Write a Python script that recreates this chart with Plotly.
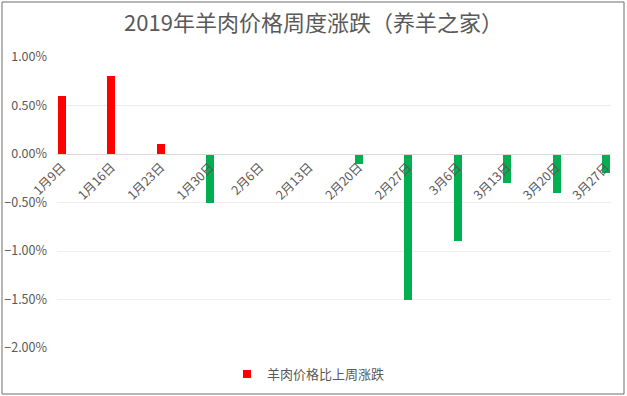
import plotly.graph_objects as go

categories = ["1月9日", "1月16日", "1月23日", "1月30日", "2月6日", "2月13日",
              "2月20日", "2月27日", "3月6日", "3月13日", "3月20日", "3月27日"]
values = [0.006, 0.008, 0.001, -0.005, 0.0, 0.0, -0.001, -0.015, -0.009, -0.003, -0.004, -0.002]
series_name = "羊肉价格比上周涨跌"
title_text = "2019年羊肉价格周度涨跌（养羊之家）"
ytick_vals = [0.01, 0.005, 0.0, -0.005, -0.01, -0.015, -0.02]

POS = "#FF0000"
NEG = "#00B050"
colors = [POS if v >= 0 else NEG for v in values]
FONT = "Noto Sans CJK SC"
GREY = "#595959"

fig = go.Figure()
fig.add_trace(go.Bar(
    x=list(range(len(categories))), y=values, name=series_name,
    marker=dict(color=colors, line=dict(width=0)), width=0.16,
    showlegend=False,
))
# legend entry (square marker like the original legend key)
fig.add_trace(go.Scatter(
    x=[None], y=[None], mode="markers", name=series_name,
    marker=dict(symbol="square", size=8, color=POS), showlegend=True,
))

fig.update_layout(
    width=627, height=396,
    margin=dict(l=57, r=16, t=57, b=48, autoexpand=False),
    paper_bgcolor="white", plot_bgcolor="white",
    font=dict(family=FONT, color=GREY, size=12),
    title=dict(text=title_text, x=0.5, xref="container", xanchor="center",
               y=1 - 23 / 396, yref="container", yanchor="middle",
               font=dict(size=22, color=GREY, family=FONT)),
    showlegend=True,
    legend=dict(orientation="h", x=(227 - 57) / 554, xanchor="left",
                y=(348 - 374) / 291, yanchor="middle",
                font=dict(size=13, color=GREY, family=FONT), itemwidth=30,
                bgcolor="rgba(0,0,0,0)"),
    bargap=0,
    shapes=[dict(type="rect", xref="paper", yref="paper",
                 x0=(2 - 57) / 554, x1=(624 - 57) / 554,
                 y0=(348 - 394) / 291, y1=(348 - 2) / 291,
                 line=dict(color="#6F6F6F", width=1), layer="below")],
)

fig.update_xaxes(
    tickmode="array", tickvals=list(range(len(categories))), ticktext=categories,
    tickangle=-45, range=[-0.101, 11.101], anchor="free", position=2 / 3,
    showgrid=False, zeroline=False, showline=True, linecolor="#D9D9D9", linewidth=1,
    ticks="", tickfont=dict(size=12.5, color=GREY, family=FONT), automargin=False,
)
fig.update_yaxes(
    range=[-0.02, 0.01], tickmode="array", tickvals=ytick_vals, tickformat=".2%",
    showgrid=True, gridcolor="#EDEDED", gridwidth=1, zeroline=False,
    showline=False, ticks="", ticklabelstandoff=9, automargin=False,
    tickfont=dict(size=12.5, color=GREY, family=FONT),
)

fig.write_html("out.html")
